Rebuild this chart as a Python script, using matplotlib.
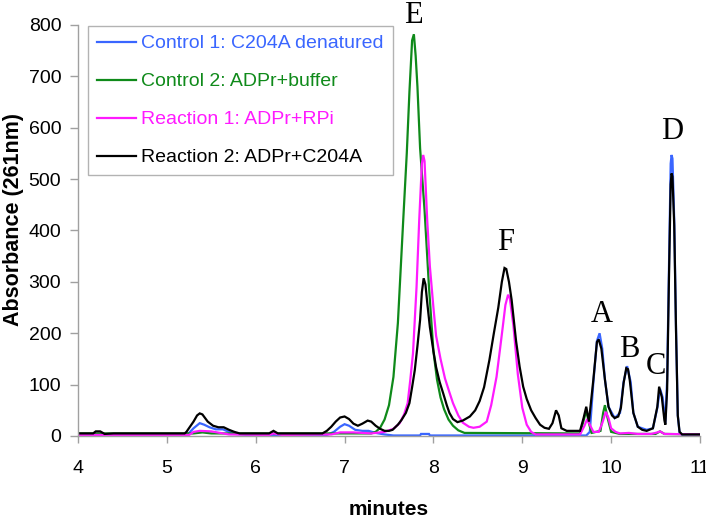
import matplotlib
matplotlib.use("Agg")
import matplotlib.pyplot as plt

# ---------------- data ----------------
# Control 1: C204A denatured (blue)
t_c1 = [4.0, 5.2, 5.25, 5.3, 5.37, 5.42, 5.48, 5.55, 5.63, 5.7, 5.78, 5.9,
        6.8, 6.88, 6.95, 7.0, 7.05, 7.12, 7.2, 7.27, 7.35, 7.45, 7.55, 7.85,
        7.86, 7.95, 7.96, 9.72, 9.76, 9.8, 9.84, 9.87, 9.9, 9.93, 9.97, 10.04,
        10.1, 10.14, 10.18, 10.22, 10.25, 10.3, 10.4, 10.47, 10.52, 10.55,
        10.58, 10.61, 10.63, 10.65, 10.67, 10.68, 10.69, 10.71, 10.73, 10.75,
        10.77, 10.8, 11.0]
y_c1 = [2, 2, 6, 15, 25, 22, 17, 13, 13, 8, 4, 2,
        2, 8, 18, 23, 20, 12, 10, 10, 6, 3, 1, 1,
        4, 4, 1, 1, 8, 105, 185, 200, 170, 110, 57, 35,
        45, 105, 136, 105, 45, 18, 12, 15, 55, 92,
        75, 25, 110, 320, 530, 547, 540, 420, 210, 40,
        6, 2, 2]

# Control 2: ADPr+buffer (green)
t_c2 = [4.0, 5.3, 5.4, 5.5, 7.3, 7.35, 7.4, 7.45, 7.5, 7.55, 7.6, 7.63, 7.66,
        7.7, 7.73, 7.76, 7.78, 7.8, 7.82, 7.85, 7.9, 7.95, 8.0, 8.04, 8.08,
        8.12, 8.17, 8.22, 8.28, 8.35, 9.65, 9.69, 9.72, 9.75, 9.78, 9.88, 9.91,
        9.93, 9.96, 10.0, 10.1, 10.5, 10.55, 10.6, 11.0]
y_c2 = [5, 5, 7, 5, 5, 8, 16, 32, 60, 115, 220, 320, 420,
        550, 670, 770, 782, 740, 680, 560, 440, 290, 165, 110, 75,
        52, 32, 20, 11, 6, 5, 30, 50, 25, 6, 10, 45,
        60, 35, 8, 4, 4, 9, 4, 3]

# Reaction 1: ADPr+RPi (magenta)
t_r1 = [4.0, 5.25, 5.3, 5.37, 5.5, 5.6, 5.7, 6.15, 6.2, 6.3, 6.85, 6.95, 7.1,
        7.3, 7.45, 7.55, 7.62, 7.67, 7.71, 7.74, 7.77, 7.81, 7.84, 7.87, 7.885,
        7.9, 7.93, 7.96, 8.0, 8.03, 8.08, 8.13, 8.18, 8.22, 8.28, 8.33, 8.4,
        8.45, 8.52, 8.6, 8.65, 8.71, 8.75, 8.78, 8.81, 8.84, 8.86, 8.9, 8.95,
        9.0, 9.05, 9.1, 9.15, 9.65, 9.7, 9.73, 9.76, 9.8, 9.86, 9.9, 9.94,
        9.97, 10.0, 10.05, 10.1, 10.2, 10.3, 10.45, 10.52, 10.55, 10.6, 11.0]
y_r1 = [2, 2, 8, 10, 9, 6, 3, 2, 5, 2, 3, 7, 7,
        5, 8, 14, 25, 42, 64, 110, 161, 290, 420, 530, 547,
        535, 420, 330, 250, 195, 150, 112, 85, 64, 40, 26, 18,
        16, 18, 28, 60, 115, 170, 212, 255, 275, 268, 215, 120,
        55, 22, 8, 3, 3, 20, 33, 22, 8, 8, 25, 47,
        35, 15, 8, 5, 6, 4, 4, 7, 9, 4, 3]

# Reaction 2: ADPr+C204A (black)
t_r2 = [4.0, 4.17, 4.2, 4.25, 4.3, 4.4, 5.2, 5.22, 5.26, 5.3, 5.34, 5.37,
        5.4, 5.46, 5.52, 5.58, 5.64, 5.7, 5.76, 5.82, 6.15, 6.2, 6.25, 6.75,
        6.8, 6.85, 6.9, 6.95, 7.0, 7.05, 7.1, 7.15, 7.2, 7.26, 7.3, 7.35, 7.4,
        7.45, 7.5, 7.54, 7.6, 7.64, 7.69, 7.73, 7.76, 7.79, 7.82, 7.85, 7.87,
        7.89, 7.91, 7.93, 7.96, 8.0, 8.03, 8.07, 8.11, 8.15, 8.18, 8.22, 8.27,
        8.33, 8.41, 8.47, 8.52, 8.57, 8.63, 8.68, 8.73, 8.77, 8.8, 8.82, 8.85,
        8.88, 8.93, 8.97, 9.01, 9.05, 9.1, 9.15, 9.2, 9.25, 9.3, 9.34, 9.38,
        9.41, 9.44, 9.5, 9.65, 9.69, 9.72, 9.75, 9.77, 9.8, 9.84, 9.86, 9.89,
        9.93, 9.97, 10.01, 10.04, 10.08, 10.11, 10.14, 10.17, 10.19, 10.21,
        10.25, 10.3, 10.35, 10.4, 10.47, 10.52, 10.54, 10.57, 10.6, 10.61,
        10.63, 10.65, 10.67, 10.68, 10.69, 10.71, 10.73, 10.75, 10.77, 10.8,
        11.0]
y_r2 = [5, 5, 9, 9, 4, 5, 5, 8, 18, 28, 40, 44,
        42, 28, 20, 17, 17, 12, 8, 5, 5, 10, 5, 5,
        10, 18, 28, 36, 38, 33, 24, 20, 24, 30, 28, 20, 14,
        10, 10, 12, 22, 31, 45, 64, 95, 128, 175, 226, 280,
        307, 295, 260, 212, 165, 134, 105, 83, 60, 45, 33, 27,
        30, 38, 50, 68, 95, 148, 200, 250, 300, 327, 325, 300,
        265, 185, 135, 96, 72, 50, 35, 22, 16, 14, 25, 50,
        40, 15, 10, 10, 35, 57, 28, 60, 110, 183, 188, 170,
        110, 57, 40, 35, 38, 55, 103, 132, 130, 108,
        45, 18, 12, 10, 15, 57, 96, 76, 30, 22,
        90, 300, 490, 511, 505, 410, 206, 40, 8, 3,
        3]

series_labels = ["Control 1: C204A denatured", "Control 2: ADPr+buffer",
                 "Reaction 1: ADPr+RPi", "Reaction 2: ADPr+C204A"]
series_colors = ["#3a66ff", "#0f8a1a", "#ff1aff", "#000000"]

peak_names = ["E", "F", "A", "B", "C", "D"]
peak_x = [7.77, 8.81, 9.89, 10.2, 10.5, 10.69]
peak_y = [803, 362, 222, 154, 121, 578]   # baseline of each letter

x_ticks = [4, 5, 6, 7, 8, 9, 10, 11]
y_ticks = [0, 100, 200, 300, 400, 500, 600, 700, 800]

# ---------------- plot ----------------
plt.rcParams['font.family'] = ['Liberation Sans', 'DejaVu Sans']
fig = plt.figure(figsize=(7.06, 5.19), dpi=100)
ax = fig.add_axes([78 / 706, 1 - 436 / 519, 622 / 706, 411 / 519])

data = [(t_c1, y_c1), (t_c2, y_c2), (t_r1, y_r1), (t_r2, y_r2)]
for (tx, ty), lab, col in zip(data, series_labels, series_colors):
    ax.plot(tx, ty, color=col, lw=1.6, label=lab, solid_joinstyle='miter')

ax.set_xlim(4, 11)
ax.set_ylim(0, 800)
ax.set_xticks(x_ticks)
ax.set_yticks(y_ticks)
ax.tick_params(axis='x', direction='out', length=5, width=1, color='#a0a0a0',
               labelsize=14, pad=12)
ax.tick_params(axis='y', direction='out', length=6, width=1, color='#a0a0a0',
               labelsize=14, pad=6)
for s in ['top', 'right']:
    ax.spines[s].set_visible(False)
for s in ['left', 'bottom']:
    ax.spines[s].set_color('#a0a0a0')
    ax.spines[s].set_linewidth(1)

for n, px, py in zip(peak_names, peak_x, peak_y):
    ax.text(px, py, n, family=['Liberation Serif', 'DejaVu Serif'], fontsize=22,
            ha='center', va='baseline', clip_on=False)

fig.text(389 / 706, 1 - 515 / 519, "minutes", ha='center', va='baseline',
         fontsize=15, fontweight='bold')
fig.text(14 / 706, 1 - 220 / 519, "Absorbance (261nm)", ha='center', va='center',
         rotation=90, fontsize=15.5, fontweight='bold')

leg = ax.legend(loc='upper left', bbox_to_anchor=(88 / 706, 1 - 26 / 519),
                bbox_transform=fig.transFigure, borderaxespad=0, fontsize=14,
                frameon=True, fancybox=False, edgecolor='#a0a0a0',
                handlelength=2.0, handletextpad=0.3, labelspacing=1.05,
                borderpad=0.45, labelcolor='linecolor')
leg.get_frame().set_linewidth(1)

fig.savefig("out.png", dpi=100)
